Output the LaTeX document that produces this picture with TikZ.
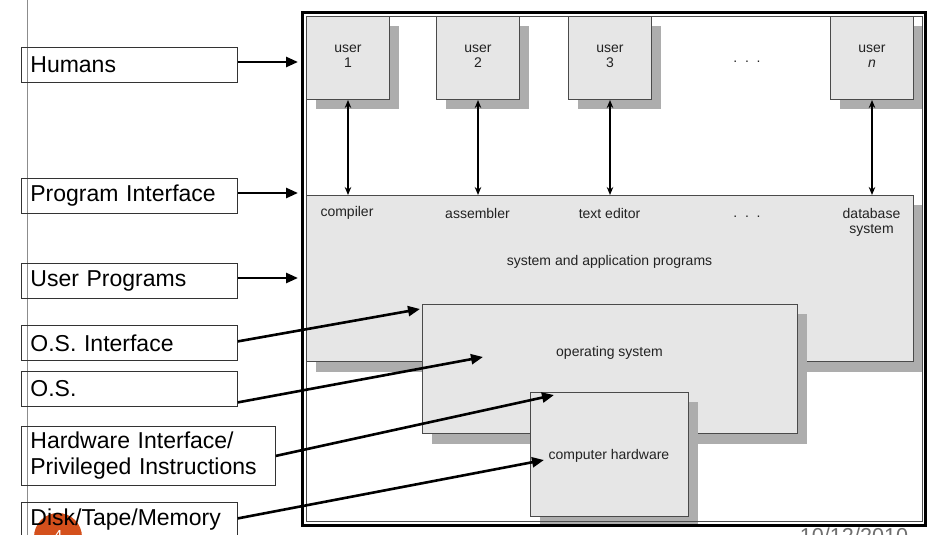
\documentclass[tikz,border=0pt]{standalone}
\usepackage{fontspec}
\setmainfont{Liberation Sans}
\usetikzlibrary{arrows.meta,calc}
\definecolor{boxfill}{HTML}{E6E6E6}
\definecolor{boxline}{HTML}{4A4A4A}
\definecolor{shadec}{HTML}{ADADAD}
\definecolor{txtc}{HTML}{222222}
\definecolor{slideorange}{HTML}{D4501C}
\definecolor{datec}{HTML}{6E6E6E}
\begin{document}
\begin{tikzpicture}[x=1pt,y=-1pt,
  lbl/.style={draw=black!80, line width=0.8pt, rectangle, minimum height=35pt,
    inner xsep=9pt, inner ysep=0pt, align=left, anchor=north west,
    font=\fontsize{23}{26}\selectfont},
  gbox/.style={draw=boxline, line width=1pt, fill=boxfill, anchor=north west,
    inner sep=0pt, rectangle},
  itxt/.style={text=txtc, font=\fontsize{14}{15}\selectfont, inner sep=0pt, align=center},
  bigarrow/.style={line width=2.6pt, -{Triangle[length=12pt,width=10pt]}},
  uarrow/.style={line width=1.5pt, {Stealth[length=8pt,width=6.5pt]}-{Stealth[length=8pt,width=6.5pt]}},
  shadow/.style={fill=shadec}
]
\useasboundingbox (0,0) rectangle (931,535);
\clip (0,0) rectangle (931,535);

% thin vertical guide line
\draw[black!45, line width=0.7pt] (27,0) -- (27,535);

% slide number badge
\fill[slideorange] (58,537) circle (24);
\node[text=white, font=\fontsize{16}{16}\selectfont, inner sep=0pt, anchor=north] (num) at (58,530) {4};

% left labels
\node[lbl, text width=198pt] (hum) at (21,47) {Humans};
\node[lbl, text width=198pt] (pif) at (21,178) {Program Interface};
\node[lbl, text width=198pt] (upr) at (21,263) {User Programs};
\node[lbl, text width=198pt] (osi) at (21,325) {O.S. Interface};
\node[lbl, text width=198pt] (os) at (21,371) {O.S.};
\node[lbl, text width=236pt, minimum height=59pt] (hwi) at (21,426) {Hardware Interface/\\Privileged Instructions};
\node[lbl, text width=198pt] (disk) at (21,502) {Disk/Tape/Memory};

% shadows
\fill[shadow] (316,26) rectangle (399,109);
\fill[shadow] (446,26) rectangle (529,109);
\fill[shadow] (578,26) rectangle (661,109);
\fill[shadow] (840,26) rectangle (922,109);
\fill[shadow] (316,205) rectangle (922,372);

% user boxes
\node[gbox, minimum width=83pt, minimum height=83pt] (u1) at (306,16) {};
\node[gbox, minimum width=83pt, minimum height=83pt] (u2) at (436,16) {};
\node[gbox, minimum width=83pt, minimum height=83pt] (u3) at (568,16) {};
\node[gbox, minimum width=83pt, minimum height=83pt] (un) at (830,16) {};
\node[itxt] (t1) at ($(u1.center)+(0,-2)$) {user\\1};
\node[itxt] (t2) at ($(u2.center)+(0,-2)$) {user\\2};
\node[itxt] (t3) at ($(u3.center)+(0,-2)$) {user\\3};
\node[itxt] (tn) at ($(un.center)+(0,-2)$) {user\\\textit{n}};
\node[itxt, anchor=base] (udots) at (747,63) {.\ \ .\ \ .};

% system and application programs
\node[gbox, minimum width=607pt, minimum height=166pt] (sys) at (306,195) {};
\node[itxt] (comp) at (347,213) {compiler};
\node[itxt] (asm) at (477.5,213) {assembler};
\node[itxt] (ted) at (609.5,213) {text editor};
\node[itxt, anchor=base] (sdots) at (747,217) {.\ \ .\ \ .};
\node[itxt] (dbs) at (871.5,222) {database\\system};
\node[itxt] (sap) at (609.5,262) {system and application programs};

% operating system
\fill[shadow] (432,314) rectangle (807,444);
\node[gbox, minimum width=375pt, minimum height=129pt] (osb) at (422,304) {};
\node[itxt] (ost) at (609.5,353) {operating system};

% computer hardware
\fill[shadow] (540,402) rectangle (698,524);
\node[gbox, minimum width=158pt, minimum height=124pt] (hwb) at (530,392) {};
\node[itxt] (hwt) at (609,456) {computer hardware};

% user arrows
\draw[uarrow] (u1.south) -- (u1.south |- sys.north);
\draw[uarrow] (u2.south) -- (u2.south |- sys.north);
\draw[uarrow] (u3.south) -- (u3.south |- sys.north);
\draw[uarrow] (un.south) -- (un.south |- sys.north);

% frame
\draw[black, line width=3pt] (302.5,12.5) rectangle (925.5,525);
\draw[black!70, line width=0.8pt] (306,16) rectangle (922,521.5);

% date
\node[text=datec, font=\fontsize{21.6}{22}\selectfont, inner sep=0pt, anchor=north] (date) at (854,528) {10/12/2010};

% label arrows
\coordinate (tH) at (298,62);
\coordinate (tP) at (298,193);
\coordinate (tU) at (298,278);
\coordinate (tOI) at (420,309);
\coordinate (tOS) at (483,357);
\coordinate (tHW) at (554,395);
\coordinate (tD) at (544,460);
\draw[bigarrow] (hum.east |- tH) -- (tH);
\draw[bigarrow] (pif.east |- tP) -- (tP);
\draw[bigarrow] (upr.east |- tU) -- (tU);
\draw[bigarrow] ([yshift=1.5pt]osi.east) -- (tOI);
\draw[bigarrow] ([yshift=-13.5pt]os.east) -- (tOS);
\draw[bigarrow] (hwi.east) -- (tHW);
\draw[bigarrow] ([yshift=1.5pt]disk.east) -- (tD);
\end{tikzpicture}
\end{document}
